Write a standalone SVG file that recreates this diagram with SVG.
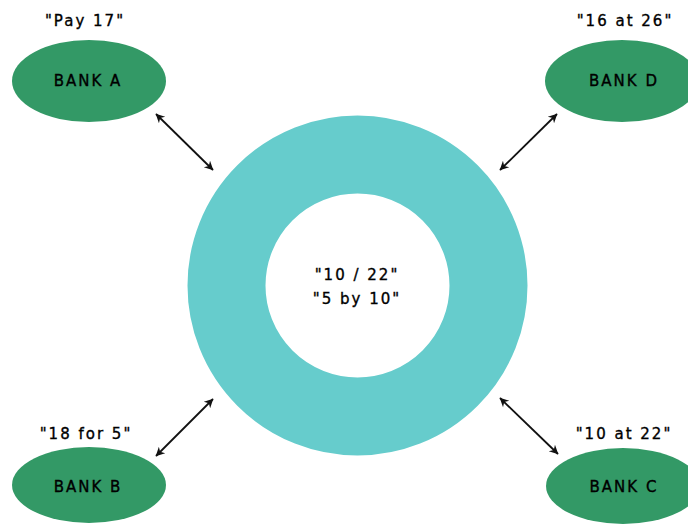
<svg xmlns="http://www.w3.org/2000/svg" width="688" height="524" viewBox="0 0 688 524">
<defs>
<style>
.bank{fill:#339966;}
.t{font-family:"DejaVu Sans",sans-serif;font-size:15px;fill:#000;stroke:#000;stroke-width:0.35;text-anchor:middle;letter-spacing:2px;}
.c{stroke:#111;stroke-width:1.8;fill:none;marker-start:url(#ah);marker-end:url(#ah);}
</style>
<marker id="ah" viewBox="0 0 10 10" refX="9.5" refY="5" markerWidth="15" markerHeight="9" markerUnits="userSpaceOnUse" orient="auto-start-reverse">
<path d="M0,0 L10,5 L0,10 L3,5 Z" fill="#111"/>
</marker>
</defs>
<rect width="688" height="524" fill="#fff"/>
<g id="ring">
<circle cx="357.5" cy="285.5" r="131" fill="none" stroke="#66CCCC" stroke-width="78"/>
<text class="t" x="357" y="280">"10 / 22"</text>
<text class="t" x="357" y="304">"5 by 10"</text>
</g>
<g id="bankA">
<ellipse class="bank" cx="89" cy="81" rx="77" ry="41"/>
<text class="t" x="88" y="86">BANK A</text>
<text class="t" x="85" y="26">"Pay 17"</text>
</g>
<g id="bankD">
<ellipse class="bank" cx="622" cy="81" rx="77" ry="41"/>
<text class="t" x="624" y="86">BANK D</text>
<text class="t" x="625" y="26">"16 at 26"</text>
</g>
<g id="bankB">
<ellipse class="bank" cx="89" cy="485" rx="77" ry="38"/>
<text class="t" x="88" y="492">BANK B</text>
<text class="t" x="86" y="439">"18 for 5"</text>
</g>
<g id="bankC">
<ellipse class="bank" cx="623" cy="486" rx="77" ry="38"/>
<text class="t" x="624" y="492">BANK C</text>
<text class="t" x="624" y="439">"10 at 22"</text>
</g>
<g id="connectors">
<line class="c" x1="156" y1="114" x2="213" y2="170"/>
<line class="c" x1="557" y1="114" x2="500" y2="170"/>
<line class="c" x1="156" y1="456" x2="213" y2="399"/>
<line class="c" x1="500" y1="398" x2="558" y2="454"/>
</g>
</svg>
